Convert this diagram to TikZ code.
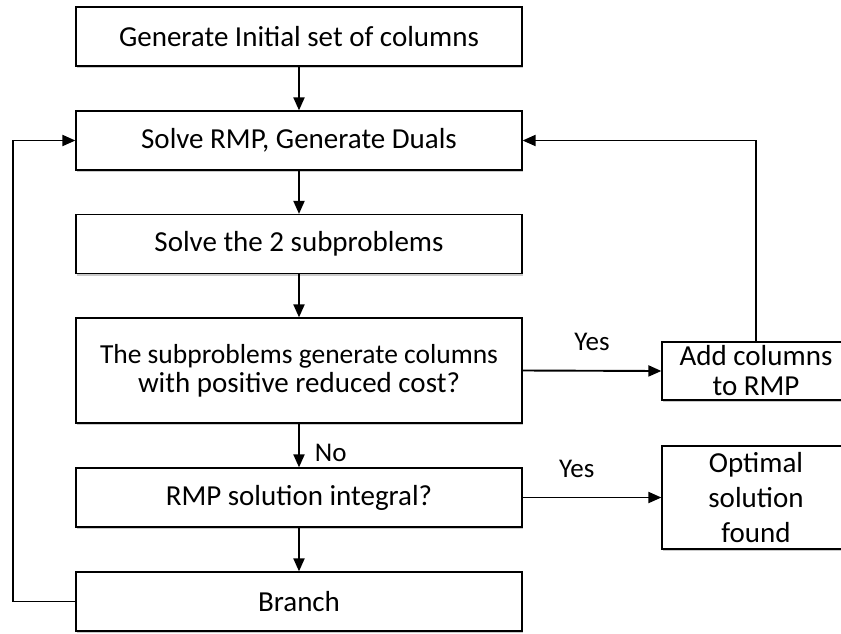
\documentclass[tikz,border=0pt]{standalone}
\usepackage{fontspec}
\setmainfont{Carlito}
\usetikzlibrary{arrows.meta,shadows}
\begin{document}
\begin{tikzpicture}[x=1pt,y=1pt,
  stepbox/.style={draw=black, line width=1.2pt, fill=white, inner sep=0pt,
    minimum width=446pt, minimum height=59pt, align=center,
    font=\fontsize{29}{33}\selectfont,
    drop shadow={shadow xshift=1.2pt, shadow yshift=-2.2pt, opacity=0.35, fill=black!60}},
  sidebox/.style={stepbox, minimum width=188pt},
  flow/.style={line width=1.9pt, -{Triangle[length=13pt,width=11pt]}},
  lbl/.style={font=\fontsize{27}{30}\selectfont, inner sep=0pt}]
\useasboundingbox (0,0) rectangle (841,-633);

% main column of steps
\node[stepbox] (init)   at (299,-36.5)  {Generate Initial set of columns};
\node[stepbox] (rmp)    at (299,-140.5) {Solve RMP, Generate Duals};
\node[stepbox] (sub)    at (299,-244)   {Solve the 2 subproblems};
\node[stepbox, minimum height=105pt, font=\fontsize{29}{29}\selectfont]
                (check)  at (299,-370.5) {{\fontsize{27.5}{29}\selectfont The subproblems generate columns}\\with positive reduced cost?};
\node[stepbox] (integ)  at (299,-497.5) {RMP solution integral?};
\node[stepbox] (branch) at (299,-601.5) {Branch};

% side boxes
\node[sidebox, minimum height=58pt, font=\fontsize{29}{30}\selectfont]
                (add)    at (756,-371)   {Add columns\\to RMP};
\node[sidebox, minimum height=103pt, font=\fontsize{29}{35}\selectfont]
                (opt)    at (756,-497.5) {Optimal\\solution\\found};

% loop corner points
\coordinate (lc1) at (12.7,-601.5);
\coordinate (lc2) at (12.7,-140.5);
\coordinate (rc)  at (756,-140.5);

% connectors
\draw[flow] (init) -- (rmp);
\draw[flow] (rmp) -- (sub);
\draw[flow] (sub) -- (check);
\draw[flow] (check) -- node[lbl, right=15pt, pos=0.67] {No} (integ);
\draw[flow] (integ) -- (branch);
\draw[flow] (check.east) -- node[lbl, above=19pt, pos=0.5] {Yes} (add.west);
\draw[flow] (integ.east) -- node[lbl, above=19pt, pos=0.39] {Yes} (opt.west);
\draw[flow] (branch.west) -- (lc1) -- (lc2) -- (rmp.west);
\draw[flow] (add.north) -- (rc) -- (rmp.east);
\end{tikzpicture}
\end{document}
